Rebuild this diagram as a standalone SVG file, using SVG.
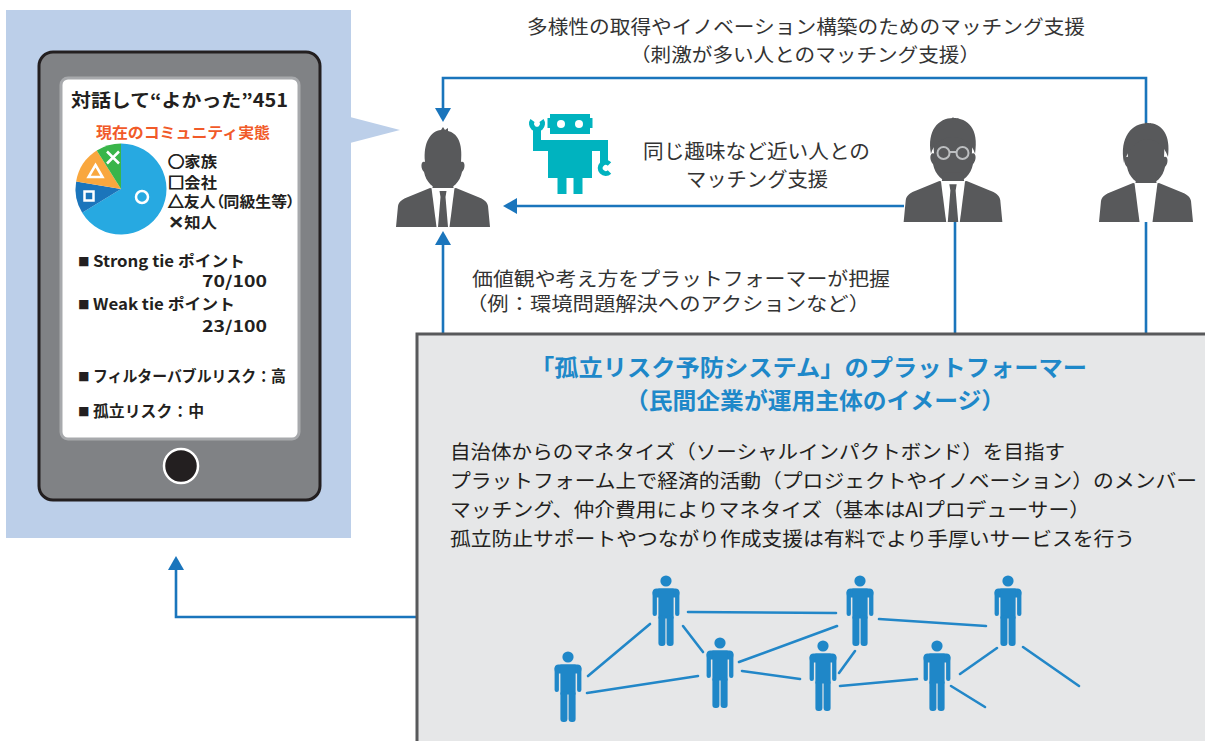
<svg xmlns="http://www.w3.org/2000/svg" width="1205" height="741" viewBox="0 0 1205 741">
  <style>
    .jp { font-family: "Noto Sans CJK JP", "Liberation Sans", sans-serif; }
    .prop { font-feature-settings: "palt"; }
    .scr { font-weight: 700; fill: #231f20; }
    .sym { stroke: #231f20; stroke-width: 0.9; }
    .lbl { font-size: 19px; fill: #333333; }
    .body { font-size: 19.5px; fill: #231f20; }
    .ttl { font-size: 23px; font-weight: 700; fill: #1e88c9; }
    .link { fill: none; stroke: #1a75bc; stroke-width: 2.6; }
    .net { stroke: #2287c8; stroke-width: 2.6; stroke-linecap: round; }
    .suit { fill: #58595b; }
    .robot { fill: #00b3bf; }
  </style>
  <defs>
    <marker id="ah" viewBox="0 0 14 16" markerWidth="14" markerHeight="16" refX="4" refY="8" orient="auto" markerUnits="userSpaceOnUse">
      <path d="M0,0 L14,8 L0,16 Z" fill="#1a75bc"/>
    </marker>
    <!-- small standing figure used in the network -->
    <g id="fig" fill="#1f87c8">
      <circle cx="0" cy="0" r="5.6"/>
      <rect x="-13.4" y="7.5" width="26.8" height="9" rx="4"/>
      <rect x="-13.4" y="9" width="4.3" height="26" rx="2"/>
      <rect x="9.1" y="9" width="4.3" height="26" rx="2"/>
      <rect x="-7.6" y="7.5" width="15.2" height="30"/>
      <rect x="-7.6" y="34" width="7" height="31" rx="3"/>
      <rect x="0.6" y="34" width="7" height="31" rx="3"/>
    </g>
    <!-- businessman silhouette, origin at top centre of the head -->
    <g id="man">
      <path class="suit" d="M-18,34 C-20,14 -12,3 -2,2 L0,-1 L2,2 L5,0 L5,3 C14,5 20,14 18,34 C22,32 23,40 19,44 C17,54 10,61 0,62 C-10,61 -17,54 -19,44 C-23,40 -22,32 -18,34 Z"/>
      <path class="suit" d="M-9,52 L9,52 L11,62 L-11,62 Z"/>
      <path class="suit" d="M-47,99 L-45,78 C-44,73 -40,71 -35,69 L-13,60 L0,62 L13,60 L35,69 C40,71 44,73 45,78 L47,99 Z"/>
      <path fill="#ffffff" d="M-11.5,60 L11.5,60 L6.5,99 L-6.5,99 Z"/>
    </g>
    <path id="tie" class="suit" d="M-3.5,63 L3.5,63 L2.5,69 L5,99 L-5,99 L-2.5,69 Z"/>
  </defs>

  <!-- phone panel -->
  <g id="phone-panel">
    <rect x="6" y="10" width="345" height="528" fill="#bccfe9"/>
    <polygon points="350,117 400,130 350,143" fill="#bccfe9"/>
    <rect x="39" y="52" width="281" height="448" rx="14" fill="#808285" stroke="#231f20" stroke-width="3"/>
    <rect x="61" y="78" width="238" height="361" rx="7" fill="#ffffff" stroke="#a7a9ac" stroke-width="3"/>
    <circle cx="181" cy="466" r="17" fill="#231f20" stroke="#ffffff" stroke-width="2.5"/>

    <text class="jp scr" x="71" y="107" font-size="18" textLength="217" lengthAdjust="spacingAndGlyphs">対話して“よかった”451</text>
    <text class="jp" x="96" y="138" font-size="15" font-weight="700" fill="#f15a29" textLength="174" lengthAdjust="spacingAndGlyphs">現在のコミュニティ実態</text>

    <!-- pie chart -->
    <g id="pie">
      <path d="M121,189 L121,143.5 A45.5,45.5 0 1 1 82.16,212.71 Z" fill="#27a9e1"/>
      <path d="M121,189 L82.16,212.71 A45.5,45.5 0 0 1 76.14,181.41 Z" fill="#1b75bb"/>
      <path d="M121,189 L76.14,181.41 A45.5,45.5 0 0 1 96.75,150.5 Z" fill="#f9a73e"/>
      <path d="M121,189 L96.75,150.5 A45.5,45.5 0 0 1 121,143.5 Z" fill="#39b54a"/>
      <g fill="none" stroke="#ffffff" stroke-width="2.5">
        <circle cx="142" cy="197" r="6"/>
        <rect x="84.5" y="191.5" width="9" height="9"/>
        <polygon points="95.5,165 102.5,177 88.5,177"/>
        <path d="M107,151.5 L119,163.5 M119,151.5 L107,163.5"/>
      </g>
    </g>
    <g class="jp scr prop" font-size="15">
      <text x="168" y="167" textLength="49" lengthAdjust="spacingAndGlyphs"><tspan class="sym">○</tspan>家族</text>
      <text x="168" y="188" textLength="49" lengthAdjust="spacingAndGlyphs"><tspan class="sym">□</tspan>会社</text>
      <text x="168" y="207" textLength="127" lengthAdjust="spacingAndGlyphs"><tspan class="sym">△</tspan>友人（同級生等）</text>
      <text x="168" y="228" textLength="49" lengthAdjust="spacingAndGlyphs"><tspan class="sym">×</tspan>知人</text>
    </g>
    <g class="jp scr" font-size="15.5">
      <text x="78" y="266" font-size="11.5">■</text>
      <text x="93" y="267" textLength="152" lengthAdjust="spacingAndGlyphs">Strong tie ポイント</text>
      <text x="202" y="287" textLength="65" lengthAdjust="spacingAndGlyphs">70/100</text>
      <text x="78" y="309" font-size="11.5">■</text>
      <text x="93" y="310" textLength="142" lengthAdjust="spacingAndGlyphs">Weak tie ポイント</text>
      <text x="202" y="332" textLength="65" lengthAdjust="spacingAndGlyphs">23/100</text>
      <text x="78" y="381" font-size="11.5">■</text>
      <text x="93" y="382" textLength="193" lengthAdjust="spacingAndGlyphs">フィルターバブルリスク：高</text>
      <text x="78" y="416" font-size="11.5">■</text>
      <text x="93" y="417" textLength="111" lengthAdjust="spacingAndGlyphs">孤立リスク：中</text>
    </g>
  </g>

  <!-- connectors -->
  <g id="connectors">
    <polyline class="link" points="1146,123 1146,78 443,78 443,112" marker-end="url(#ah)"/>
    <line class="link" x1="955" y1="222" x2="955" y2="335"/>
    <line class="link" x1="1146" y1="222" x2="1146" y2="335"/>
    <line class="link" x1="904" y1="206" x2="513" y2="206" marker-end="url(#ah)"/>
    <line class="link" x1="443" y1="335" x2="443" y2="241" marker-end="url(#ah)"/>
    <polyline class="link" points="417,617 176,617 176,566" marker-end="url(#ah)"/>
  </g>

  <!-- connector labels -->
  <g id="labels" class="jp lbl">
    <text x="527" y="34" textLength="558" lengthAdjust="spacingAndGlyphs">多様性の取得やイノベーション構築のためのマッチング支援</text>
    <text x="630" y="62" textLength="350" lengthAdjust="spacingAndGlyphs">（刺激が多い人とのマッチング支援）</text>
    <text x="643" y="159" font-size="20" textLength="227" lengthAdjust="spacingAndGlyphs">同じ趣味など近い人との</text>
    <text x="686" y="187" font-size="20" textLength="142" lengthAdjust="spacingAndGlyphs">マッチング支援</text>
    <text x="472" y="286" textLength="418" lengthAdjust="spacingAndGlyphs">価値観や考え方をプラットフォーマーが把握</text>
    <text x="466" y="311" textLength="404" lengthAdjust="spacingAndGlyphs">（例：環境問題解決へのアクションなど）</text>
  </g>

  <!-- user (left) -->
  <g id="user">
    <use href="#man" transform="translate(443,128)"/>
    <use href="#tie" transform="translate(443,128)"/>
  </g>

  <!-- AI robot -->
  <g id="robot" class="robot">
    <rect x="550" y="114" width="40" height="20"/>
    <rect x="547.5" y="118" width="45" height="10"/>
    <rect x="548" y="140" width="44" height="38"/>
    <rect x="557.5" y="177" width="9" height="17"/>
    <rect x="573.5" y="177" width="9" height="17"/>
    <rect x="533" y="140" width="16" height="11"/>
    <rect x="533" y="129" width="8" height="22"/>
    <rect x="591" y="140" width="17" height="11"/>
    <rect x="600" y="140" width="8" height="23"/>
    <path d="M532.5,120.5 A5.5,5.5 0 1 0 541.5,120.5" fill="none" stroke="#00b3bf" stroke-width="5"/>
    <path d="M609.5,164 A5.5,5.5 0 1 0 609.5,172" fill="none" stroke="#00b3bf" stroke-width="5"/>
    <circle cx="561" cy="124" r="4" fill="#ffffff"/>
    <circle cx="579" cy="124" r="4" fill="#ffffff"/>
  </g>

  <!-- member with glasses -->
  <g id="member-glasses">
    <g transform="translate(953,118) scale(1.05,1.05)">
      <use href="#man"/>
      <use href="#tie"/>
      <path class="suit" d="M-21,34 C-25,12 -14,0 0,0 C14,0 25,10 21,34 C18,24 10,18 0,18 C-10,18 -18,24 -21,34 Z"/>
    </g>
    <g fill="none" stroke="#bcbec0" stroke-width="2">
      <circle cx="943.5" cy="153" r="6"/>
      <circle cx="962.5" cy="153" r="6"/>
      <line x1="949.5" y1="152" x2="956.5" y2="152"/>
    </g>
  </g>

  <!-- member -->
  <g id="member">
    <g transform="translate(1146,123)">
      <use href="#man"/>
      <path class="suit" d="M-22,40 C-27,14 -14,0 2,0 C16,0 25,12 22,34 C18,22 10,16 0,16 C-10,18 -18,26 -22,40 Z"/>
    </g>
  </g>

  <!-- platform box -->
  <g id="platform">
    <rect x="417" y="334" width="800" height="420" fill="#e6e7e8" stroke="#58595b" stroke-width="3"/>
    <text class="jp ttl" x="530" y="376" textLength="557" lengthAdjust="spacingAndGlyphs">「孤立リスク予防システム」のプラットフォーマー</text>
    <text class="jp ttl" x="625" y="409" textLength="380" lengthAdjust="spacingAndGlyphs">（民間企業が運用主体のイメージ）</text>
    <text class="jp body" x="450" y="459" textLength="615" lengthAdjust="spacingAndGlyphs">自治体からのマネタイズ（ソーシャルインパクトボンド）を目指す</text>
    <text class="jp body" x="450" y="488" textLength="747" lengthAdjust="spacingAndGlyphs">プラットフォーム上で経済的活動（プロジェクトやイノベーション）のメンバー</text>
    <text class="jp body" x="450" y="517" textLength="640" lengthAdjust="spacingAndGlyphs">マッチング、仲介費用によりマネタイズ（基本はAIプロデューサー）</text>
    <text class="jp body" x="450" y="546" textLength="685" lengthAdjust="spacingAndGlyphs">孤立防止サポートやつながり作成支援は有料でより手厚いサービスを行う</text>
  </g>

  <!-- member network -->
  <g id="network">
    <g class="net">
      <line x1="588" y1="676" x2="650" y2="624"/>
      <line x1="587" y1="693" x2="698" y2="676"/>
      <line x1="683" y1="626" x2="703" y2="652"/>
      <line x1="688" y1="612" x2="836" y2="613"/>
      <line x1="739" y1="662" x2="837" y2="626"/>
      <line x1="742" y1="671" x2="800" y2="679"/>
      <line x1="839" y1="673" x2="855" y2="651"/>
      <line x1="879" y1="619" x2="986" y2="626"/>
      <line x1="840" y1="686" x2="917" y2="679"/>
      <line x1="960" y1="674" x2="997" y2="648"/>
      <line x1="951" y1="686" x2="985" y2="707"/>
      <line x1="1023" y1="647" x2="1079" y2="686"/>
    </g>
    <use href="#fig" x="568" y="657"/>
    <use href="#fig" x="666" y="581"/>
    <use href="#fig" x="720" y="643"/>
    <use href="#fig" x="823" y="646"/>
    <use href="#fig" x="860" y="581"/>
    <use href="#fig" x="937" y="646"/>
    <use href="#fig" x="1008" y="581"/>
  </g>
</svg>
